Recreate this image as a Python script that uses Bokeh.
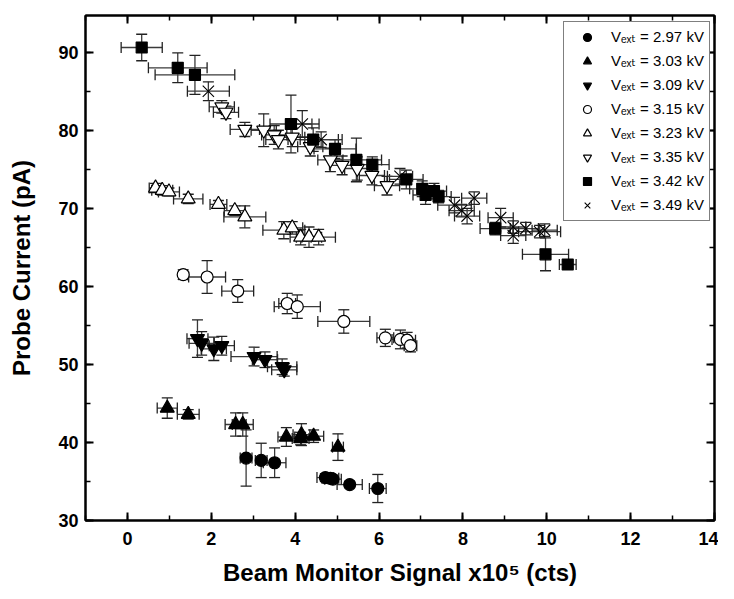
from bokeh.plotting import figure
from bokeh.models import (ColumnDataSource, Whisker, TeeHead, Range1d, LinearAxis,
                          Legend, LegendItem, SingleIntervalTicker, CustomJSTickFormatter)
from bokeh.embed import file_html
from bokeh.resources import INLINE

# ---------------- data ----------------
labels = ["V\u2091\u2093\u209c = 2.97 kV", "V\u2091\u2093\u209c = 3.03 kV", "V\u2091\u2093\u209c = 3.09 kV",
          "V\u2091\u2093\u209c = 3.15 kV", "V\u2091\u2093\u209c = 3.23 kV", "V\u2091\u2093\u209c = 3.35 kV",
          "V\u2091\u2093\u209c = 3.42 kV", "V\u2091\u2093\u209c = 3.49 kV"]

x_297 = [2.83, 3.19, 3.51, 4.72, 4.84, 4.90, 5.30, 5.97]
y_297 = [38.0, 37.7, 37.4, 35.5, 35.4, 35.3, 34.6, 34.1]
xe_297 = [0.14, 0.14, 0.27, 0.2, 0.2, 0.2, 0.3, 0.2]
ye_297 = [3.6, 2.2, 1.9, 0.5, 0.5, 0.5, 0.4, 1.8]

x_303 = [0.95, 1.45, 2.58, 2.75, 3.79, 4.13, 4.15, 4.44, 5.02]
y_303 = [44.4, 43.6, 42.3, 42.3, 40.7, 40.5, 41.0, 40.8, 39.4]
xe_303 = [0.24, 0.26, 0.25, 0.25, 0.2, 0.2, 0.2, 0.24, 0.13]
ye_303 = [1.3, 0.6, 1.5, 1.5, 1.2, 0.8, 1.4, 0.8, 1.7]

x_309 = [1.67, 1.77, 2.06, 2.25, 3.02, 3.28, 3.69, 3.74]
y_309 = [53.3, 52.7, 52.0, 52.4, 51.0, 50.6, 49.7, 49.3]
xe_309 = [0.25, 0.3, 0.3, 0.3, 0.55, 0.3, 0.35, 0.3]
ye_309 = [2.4, 1.5, 1.5, 1.2, 1.2, 1.0, 1.0, 0.8]

x_315 = [1.33, 1.90, 2.63, 3.81, 4.05, 5.16, 6.15, 6.51, 6.67, 6.75]
y_315 = [61.5, 61.2, 59.4, 57.8, 57.4, 55.5, 53.4, 53.2, 53.1, 52.4]
xe_315 = [0.1, 0.44, 0.38, 0.2, 0.55, 0.62, 0.2, 0.2, 0.2, 0.15]
ye_315 = [0.6, 2.1, 1.45, 1.3, 1.5, 1.5, 1.1, 1.2, 1.0, 0.8]

x_323 = [0.67, 0.83, 0.99, 1.45, 2.17, 2.56, 2.80, 3.73, 3.93, 4.13, 4.33, 4.56]
y_323 = [72.6, 72.3, 72.1, 71.2, 70.5, 69.7, 68.9, 67.2, 67.5, 66.3, 66.3, 66.3]
xe_323 = [0.15, 0.25, 0.25, 0.35, 0.2, 0.25, 0.5, 0.5, 0.25, 0.25, 0.3, 0.4]
ye_323 = [0.6, 0.6, 0.5, 0.6, 0.5, 0.6, 1.4, 1.1, 0.8, 1.0, 1.3, 1.0]

x_335 = [2.25, 2.35, 2.80, 3.25, 3.50, 3.60, 3.93, 4.36, 4.84, 5.12, 5.48, 5.83, 6.19]
y_335 = [83.0, 82.3, 80.1, 80.0, 79.4, 78.8, 79.1, 77.9, 76.2, 75.5, 75.1, 74.2, 72.9]
xe_335 = [0.3, 0.3, 0.35, 0.3, 0.3, 0.3, 0.3, 0.3, 0.3, 0.3, 0.3, 0.3, 0.3]
ye_335 = [0.8, 0.8, 0.9, 2.1, 1.2, 1.2, 1.2, 1.2, 1.5, 1.2, 1.5, 1.2, 1.2]

x_342 = [0.34, 1.20, 1.61, 3.90, 4.43, 4.95, 5.46, 5.84, 6.65, 7.03, 7.11, 7.31, 7.42, 8.77, 9.97, 10.50]
y_342 = [90.6, 88.0, 87.1, 80.8, 78.8, 77.6, 76.2, 75.6, 73.7, 72.5, 71.7, 72.2, 71.5, 67.4, 64.1, 62.8]
xe_342 = [0.49, 0.7, 0.95, 0.5, 0.6, 0.5, 0.6, 0.4, 0.4, 0.3, 0.3, 0.3, 0.3, 0.36, 0.55, 0.2]
ye_342 = [1.7, 1.9, 2.5, 3.7, 1.5, 1.2, 2.8, 1.0, 1.2, 1.0, 1.2, 1.0, 0.8, 0.8, 2.1, 0.4]

x_349 = [1.93, 4.17, 4.62, 6.50, 7.80, 7.97, 8.10, 8.27, 8.90, 9.20, 9.20, 9.50, 9.83, 9.95]
y_349 = [85.0, 80.8, 78.8, 74.1, 70.4, 69.7, 69.0, 71.3, 68.8, 67.6, 66.5, 67.4, 67.0, 67.2]
xe_349 = [0.5, 0.4, 0.5, 0.3, 0.4, 0.3, 0.3, 0.3, 0.3, 0.3, 0.3, 0.3, 0.5, 0.3]
ye_349 = [1.2, 1.7, 1.0, 1.0, 1.0, 0.8, 1.0, 0.8, 1.2, 0.8, 1.0, 0.8, 0.8, 0.8]

series = [
    (x_297, y_297, xe_297, ye_297, "circle", "black", 12),
    (x_303, y_303, xe_303, ye_303, "triangle", "black", 14),
    (x_309, y_309, xe_309, ye_309, "inverted_triangle", "black", 14),
    (x_315, y_315, xe_315, ye_315, "circle", "white", 12),
    (x_323, y_323, xe_323, ye_323, "triangle", "white", 14),
    (x_335, y_335, xe_335, ye_335, "inverted_triangle", "white", 14),
    (x_342, y_342, xe_342, ye_342, "square", "black", 11),
    (x_349, y_349, xe_349, ye_349, "x", "black", 16),
]

# ---------------- figure ----------------
p = figure(width=718, height=591, output_backend="svg", toolbar_location=None,
           x_range=Range1d(-1, 14), y_range=Range1d(30, 94.7),
           min_border_left=85, min_border_right=4, min_border_top=15, min_border_bottom=71)
p.background_fill_color = "white"
p.border_fill_color = "white"
p.grid.visible = False
p.outline_line_color = "black"
p.outline_line_width = 2

tick_font = "Liberation Sans, Arial, sans-serif"
title_font = "Liberation Sans Narrow, Liberation Sans, sans-serif"

def style_axis(ax, show_labels, standoff=11):
    ax.axis_line_width = 2
    ax.axis_line_color = "black"
    ax.major_tick_in = 8
    ax.major_tick_out = 0
    ax.minor_tick_in = 5
    ax.minor_tick_out = 0
    ax.major_tick_line_width = 2
    ax.minor_tick_line_width = 1.5
    ax.major_label_text_font = tick_font
    ax.major_label_text_font_style = "bold"
    ax.major_label_text_color = "black"
    if show_labels:
        ax.major_label_text_font_size = "18px"
        ax.major_label_standoff = standoff
    else:
        ax.major_label_text_font_size = "0px"
        ax.major_label_standoff = 0
        ax.formatter = CustomJSTickFormatter(code="return '';")

p.xaxis.ticker = SingleIntervalTicker(interval=2, num_minor_ticks=2)
p.yaxis.ticker = SingleIntervalTicker(interval=10, num_minor_ticks=2)
style_axis(p.xaxis[0], True, 11)
style_axis(p.yaxis[0], True, 7)
p.xaxis.axis_label = "Beam Monitor Signal x10\u2075 (cts)"
p.yaxis.axis_label = "Probe Current (pA)"
for ax in (p.xaxis[0], p.yaxis[0]):
    ax.axis_label_text_font = title_font
    ax.axis_label_text_font_style = "bold"
    ax.axis_label_text_font_size = "24px"
    ax.axis_label_text_color = "black"
p.xaxis.axis_label_standoff = 11
p.yaxis.axis_label_standoff = 20

top = LinearAxis(ticker=SingleIntervalTicker(interval=2, num_minor_ticks=2))
right = LinearAxis(ticker=SingleIntervalTicker(interval=10, num_minor_ticks=2))
style_axis(top, False)
style_axis(right, False)
p.add_layout(top, "above")
p.add_layout(right, "right")

items = []
for (xs, ys, xe, ye, marker, fill, size), lab in zip(series, labels):
    src = ColumnDataSource(dict(
        x=xs, y=ys,
        xlo=[a - e for a, e in zip(xs, xe)], xhi=[a + e for a, e in zip(xs, xe)],
        ylo=[a - e for a, e in zip(ys, ye)], yhi=[a + e for a, e in zip(ys, ye)],
    ))
    for dim, base, lo, hi in (("height", "x", "ylo", "yhi"), ("width", "y", "xlo", "xhi")):
        w = Whisker(source=src, base=base, lower=lo, upper=hi, dimension=dim,
                    line_color="#3a3a3a", line_width=1.3,
                    upper_head=TeeHead(size=11, line_color="#222222", line_width=1.3),
                    lower_head=TeeHead(size=11, line_color="#222222", line_width=1.3))
        p.add_layout(w)
    if marker == "x":
        r = p.scatter("x", "y", source=src, marker="x", size=size, line_color="black", line_width=1.1)
    else:
        r = p.scatter("x", "y", source=src, marker=marker, size=size,
                      fill_color=fill, line_color="black", line_width=1.2)
    items.append(LegendItem(label=lab, renderers=[r]))

legend = Legend(items=items, location=(478, 299))
legend.label_text_font = "Liberation Sans, DejaVu Sans, sans-serif"
legend.label_text_font_size = "15px"
legend.label_text_color = "black"
legend.glyph_width = 36
legend.glyph_height = 20
legend.label_height = 20
legend.spacing = 4
legend.padding = 5
legend.label_standoff = 6
legend.border_line_color = "black"
legend.border_line_width = 1
legend.background_fill_alpha = 1
p.add_layout(legend, "center")

open("out.html", "w").write(file_html(p, INLINE))
